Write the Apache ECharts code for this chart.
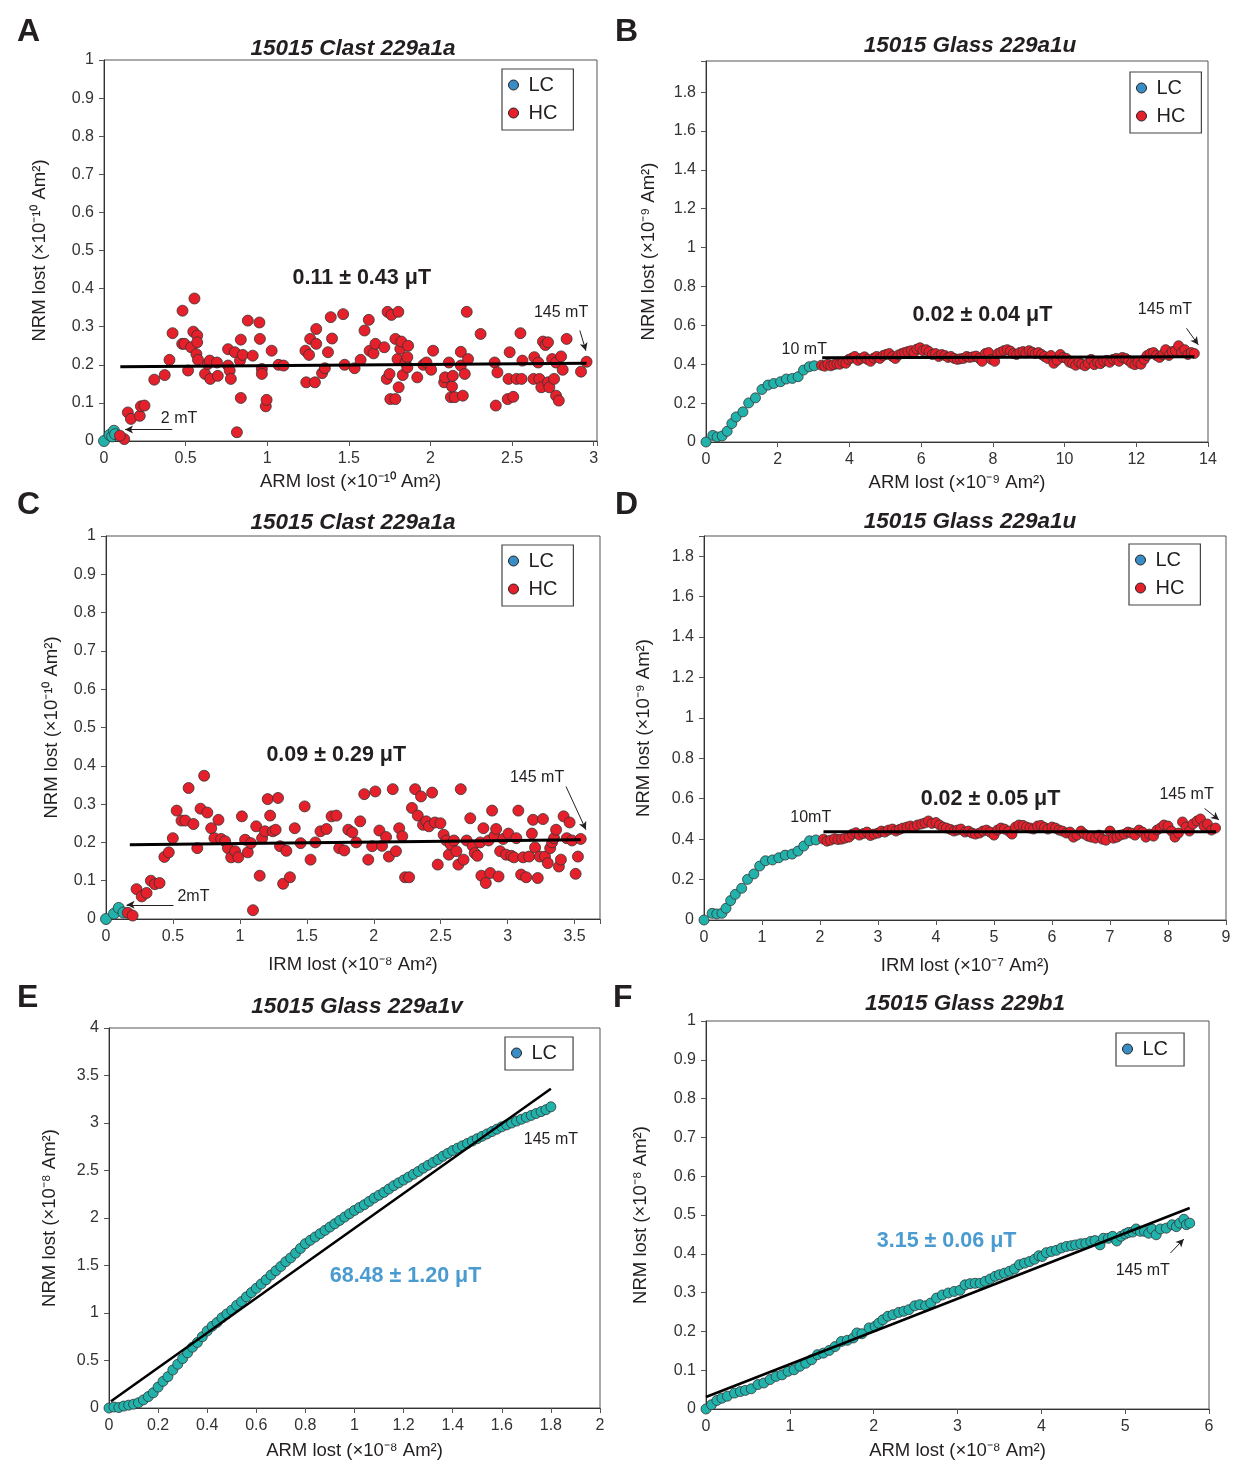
<!DOCTYPE html>
<html><head><meta charset="utf-8">
<script src="https://cdn.jsdelivr.net/npm/echarts@6/dist/echarts.min.js"></script>
<style>html,body{margin:0;padding:0;background:#fff}#c{width:1238px;height:1464px}</style>
</head><body><div id="c"></div>
<script>
// ---------- DATA ----------
// Panel A: NRM lost vs ARM lost (x1e-10)
const lcA = [[0,0],[0.034,0.016],[0.05,0.012],[0.061,0.027],[0.068,0.018]];
const hcA = [[0.124,0.005],[0.097,0.014],[0.146,0.075],[0.165,0.058],[0.219,0.066],[0.226,0.091],[0.248,0.093],[0.814,0.023],
[0.308,0.161],[0.372,0.173],[0.401,0.213],[0.42,0.283],[0.479,0.255],[0.481,0.342],[0.493,0.255],[0.515,0.185],[0.534,0.246],
[0.554,0.374],[0.547,0.287],[0.571,0.277],[0.571,0.259],[0.566,0.228],[0.576,0.213],[0.619,0.176],[0.636,0.202],[0.648,0.211],
[0.651,0.163],[0.692,0.206],[0.697,0.171],[0.76,0.241],[0.76,0.198],[0.77,0.185],[0.777,0.163],[0.801,0.233],[0.833,0.211],
[0.838,0.266],[0.838,0.113],[0.85,0.226],[0.881,0.316],[0.911,0.224],[0.952,0.311],[0.955,0.268],[0.967,0.189],[0.967,0.176],
[0.991,0.091],[0.996,0.108],[1.027,0.237],[1.069,0.2],[1.1,0.198],[1.234,0.237],[1.239,0.154],[1.256,0.226],[1.263,0.268],
[1.292,0.154],[1.3,0.255],[1.3,0.294],[1.336,0.178],[1.353,0.191],[1.372,0.233],[1.389,0.325],[1.397,0.269],[1.465,0.333],
[1.474,0.2],[1.535,0.191],[1.572,0.213],[1.596,0.29],[1.622,0.318],[1.627,0.237],[1.651,0.23],[1.663,0.255],[1.717,0.246],
[1.732,0.163],[1.737,0.339],[1.749,0.176],[1.754,0.11],[1.761,0.331],[1.785,0.11],[1.785,0.268],[1.798,0.215],[1.803,0.339],
[1.805,0.141],[1.815,0.242],[1.822,0.261],[1.83,0.173],[1.847,0.206],[1.858,0.22],[1.863,0.25],[1.858,0.193],[1.919,0.167],
[1.956,0.2],[1.975,0.206],[2.004,0.187],[2.016,0.237],[2.084,0.154],[2.089,0.167],[2.113,0.206],[2.125,0.115],[2.132,0.143],
[2.137,0.171],[2.149,0.115],[2.186,0.198],[2.186,0.234],[2.198,0.119],[2.21,0.176],[2.222,0.339],[2.23,0.215],[2.307,0.281],
[2.393,0.206],[2.4,0.093],[2.41,0.18],[2.473,0.11],[2.478,0.163],[2.485,0.233],[2.507,0.116],[2.527,0.163],[2.551,0.283],
[2.558,0.163],[2.563,0.211],[2.631,0.163],[2.636,0.22],[2.66,0.206],[2.667,0.163],[2.679,0.141],[2.689,0.261],[2.704,0.252],
[2.72,0.259],[2.72,0.154],[2.728,0.141],[2.745,0.215],[2.757,0.163],[2.769,0.119],[2.769,0.206],[2.786,0.106],[2.8,0.222],
[2.81,0.187],[2.834,0.268],[2.922,0.182],[2.956,0.208]];
const fitA = [[0.10,0.195],[2.956,0.204]];

// Panel B: NRM lost vs ARM lost (x1e-9)
const lcB = [[0,0],[0.19,0.034],[0.31,0.026],[0.45,0.031],[0.59,0.055],[0.72,0.095],[0.84,0.129],[1.03,0.155],[1.19,0.201],
[1.38,0.227],[1.56,0.27],[1.73,0.293],[1.89,0.301],[2.08,0.31],[2.24,0.324],[2.41,0.327],[2.57,0.336],[2.72,0.37],[2.88,0.387],[3.02,0.392]];
const hcBx = [3.22,3.31,3.40,3.48,3.56,3.65,3.73,3.82,3.90,3.98,4.07,4.15,4.24,4.33,4.42,4.50,4.59,4.68,4.76,4.85,4.94,5.02,5.11,5.20,
5.28,5.37,5.46,5.54,5.63,5.72,5.80,5.88,5.97,6.05,6.14,6.22,6.31,6.40,6.49,6.57,6.66,6.75,6.83,6.92,7.01,7.09,7.18,7.27,7.35,7.44,
7.53,7.62,7.70,7.79,7.88,7.96,8.05,8.14,8.22,8.31,8.40,8.49,8.57,8.66,8.75,8.84,8.92,9.01,9.10,9.18,9.27,9.36,9.44,9.53,9.62,9.70,
9.79,9.88,9.96,10.05,10.14,10.22,10.31,10.40,10.48,10.57,10.66,10.74,10.83,10.92,11.00,11.09,11.18,11.26,11.35,11.44,11.52,11.61,
11.70,11.78,11.87,11.96,12.04,12.13,12.22,12.30,12.39,12.48,12.56,12.65,12.74,12.82,12.91,13.00,13.09,13.18,13.26,13.35,13.44,13.53,13.62];
const hcBy = [0.395,0.39,0.40,0.392,0.398,0.402,0.40,0.41,0.405,0.425,0.432,0.44,0.42,0.43,0.438,0.425,0.415,0.432,0.44,0.43,0.445,0.45,
0.455,0.44,0.43,0.448,0.455,0.46,0.465,0.47,0.46,0.478,0.485,0.47,0.475,0.465,0.45,0.455,0.44,0.45,0.445,0.435,0.44,0.43,0.425,0.428,
0.43,0.44,0.435,0.438,0.442,0.43,0.415,0.455,0.46,0.425,0.415,0.455,0.462,0.47,0.475,0.468,0.455,0.45,0.46,0.465,0.458,0.47,0.462,
0.455,0.46,0.45,0.44,0.43,0.445,0.405,0.42,0.45,0.435,0.43,0.41,0.405,0.395,0.41,0.40,0.392,0.405,0.425,0.398,0.41,0.403,0.415,0.42,
0.41,0.425,0.43,0.415,0.435,0.43,0.42,0.405,0.398,0.41,0.40,0.425,0.445,0.455,0.46,0.445,0.435,0.45,0.475,0.445,0.465,0.47,0.495,
0.46,0.475,0.45,0.46,0.455];
const fitB = [[3.24,0.434],[13.62,0.439]];

// Panel C: NRM lost vs IRM lost (x1e-8)
const lcC = [[0,0],[0.06,0.014],[0.095,0.029],[0.13,0.017]];
const hcC = [[0.163,0.016],[0.199,0.009],[0.228,0.078],[0.267,0.059],[0.303,0.068],[0.335,0.1],[0.365,0.091],[0.4,0.094],[0.436,0.162],
[0.469,0.174],[0.499,0.211],[0.528,0.283],[0.564,0.257],[0.593,0.257],[0.617,0.342],[0.653,0.248],[0.682,0.185],[0.706,0.288],[0.733,0.374],
[0.757,0.278],[0.786,0.237],[0.81,0.211],[0.84,0.259],[0.86,0.209],[0.89,0.203],[0.911,0.185],[0.935,0.161],[0.964,0.177],[0.988,0.161],
[1.015,0.268],[1.039,0.207],[1.059,0.174],[1.083,0.198],[1.098,0.023],[1.122,0.242],[1.148,0.113],[1.166,0.211],[1.187,0.229],[1.208,0.313],
[1.226,0.27],[1.246,0.229],[1.267,0.233],[1.285,0.316],[1.3,0.19],[1.323,0.092],[1.347,0.178],[1.374,0.109],[1.41,0.237],[1.454,0.198],
[1.484,0.294],[1.528,0.155],[1.564,0.2],[1.602,0.229],[1.647,0.235],[1.685,0.268],[1.721,0.27],[1.742,0.185],[1.78,0.179],[1.81,0.233],
[1.84,0.226],[1.869,0.2],[1.899,0.255],[1.929,0.326],[1.959,0.155],[1.988,0.19],[2.012,0.333],[2.042,0.231],[2.062,0.191],[2.092,0.214],
[2.113,0.163],[2.142,0.339],[2.166,0.177],[2.19,0.237],[2.213,0.216],[2.234,0.109],[2.264,0.109],[2.285,0.29],[2.309,0.339],[2.329,0.27],
[2.353,0.32],[2.368,0.246],[2.392,0.255],[2.412,0.242],[2.436,0.33],[2.457,0.252],[2.478,0.142],[2.498,0.25],[2.522,0.22],[2.543,0.205],
[2.561,0.168],[2.576,0.194],[2.599,0.205],[2.617,0.177],[2.632,0.142],[2.65,0.339],[2.671,0.155],[2.694,0.205],[2.721,0.263],[2.739,0.191],
[2.754,0.172],[2.774,0.165],[2.795,0.2],[2.804,0.113],[2.819,0.237],[2.837,0.094],[2.858,0.205],[2.87,0.12],[2.884,0.283],[2.902,0.217],
[2.914,0.235],[2.932,0.111],[2.944,0.177],[2.967,0.209],[2.988,0.168],[3.006,0.223],[3.027,0.165],[3.047,0.161],[3.065,0.211],[3.08,0.283],
[3.101,0.116],[3.116,0.161],[3.139,0.109],[3.16,0.163],[3.181,0.223],[3.205,0.187],[3.19,0.259],[3.225,0.107],[3.24,0.163],[3.264,0.261],
[3.279,0.163],[3.3,0.146],[3.318,0.185],[3.332,0.2],[3.347,0.211],[3.362,0.233],[3.383,0.137],[3.398,0.155],[3.418,0.268],[3.442,0.211],
[3.463,0.252],[3.481,0.205],[3.508,0.118],[3.525,0.163],[3.546,0.209]];
const fitC = [[0.178,0.194],[3.546,0.207]];

// Panel D: NRM lost vs IRM lost (x1e-7)
const lcD = [[0,0],[0.14,0.033],[0.22,0.03],[0.31,0.033],[0.38,0.058],[0.46,0.096],[0.54,0.127],[0.65,0.157],[0.75,0.201],[0.86,0.228],
[0.96,0.267],[1.06,0.293],[1.18,0.297],[1.29,0.308],[1.4,0.321],[1.52,0.326],[1.62,0.341],[1.72,0.366],[1.82,0.392],[1.93,0.396]];
const hcDx = [2.06,2.12,2.18,2.25,2.31,2.37,2.43,2.50,2.56,2.62,2.68,2.75,2.81,2.87,2.93,3.00,3.06,3.12,3.18,3.25,3.31,3.37,3.43,3.50,
3.56,3.62,3.68,3.75,3.81,3.87,3.93,4.00,4.06,4.12,4.18,4.25,4.31,4.37,4.43,4.50,4.56,4.62,4.68,4.75,4.81,4.87,4.93,5.00,5.06,5.12,
5.18,5.25,5.31,5.37,5.43,5.50,5.56,5.62,5.68,5.75,5.81,5.87,5.93,6.00,6.06,6.12,6.18,6.25,6.31,6.37,6.43,6.50,6.56,6.62,6.68,6.75,
6.81,6.87,6.93,7.00,7.06,7.12,7.18,7.25,7.31,7.37,7.43,7.50,7.56,7.62,7.68,7.75,7.81,7.87,7.93,8.00,8.06,8.12,8.18,8.25,8.31,8.37,
8.43,8.50,8.56,8.62,8.68,8.75,8.82];
const hcDy = [0.40,0.39,0.395,0.402,0.398,0.40,0.405,0.41,0.425,0.432,0.42,0.428,0.435,0.418,0.425,0.43,0.44,0.435,0.445,0.45,0.44,0.448,
0.455,0.46,0.465,0.458,0.47,0.475,0.48,0.49,0.478,0.482,0.47,0.46,0.455,0.448,0.44,0.445,0.45,0.435,0.44,0.43,0.425,0.43,0.44,0.445,
0.435,0.42,0.445,0.455,0.45,0.44,0.425,0.46,0.47,0.468,0.46,0.455,0.45,0.465,0.468,0.458,0.45,0.46,0.455,0.445,0.44,0.43,0.435,0.41,
0.42,0.44,0.425,0.415,0.41,0.405,0.42,0.40,0.395,0.44,0.405,0.41,0.42,0.425,0.435,0.43,0.42,0.445,0.435,0.41,0.425,0.415,0.445,0.455,
0.47,0.465,0.44,0.41,0.43,0.485,0.46,0.44,0.475,0.49,0.50,0.465,0.475,0.445,0.455];
const fitD = [[2.06,0.437],[8.83,0.437]];

// Panel E: NRM lost vs ARM lost (x1e-8)
const lcE = [[0,0],[0.02,0.01],[0.04,0.005],[0.06,0.02],[0.08,0.03],[0.1,0.04],[0.12,0.055],[0.14,0.085],[0.16,0.12],[0.18,0.16],
[0.2,0.22],[0.22,0.28],[0.24,0.33],[0.26,0.4],[0.28,0.46],[0.3,0.52],[0.32,0.58],[0.34,0.64],[0.36,0.69],[0.38,0.75],[0.4,0.81],
[0.42,0.86],[0.44,0.9],[0.46,0.95],[0.48,0.99],[0.5,1.03],[0.52,1.08],[0.54,1.12],[0.56,1.17],[0.58,1.215],[0.6,1.26],[0.62,1.305],
[0.64,1.35],[0.66,1.4],[0.68,1.445],[0.7,1.49],[0.72,1.54],[0.74,1.58],[0.76,1.63],[0.78,1.68],[0.8,1.73],[0.82,1.765],[0.84,1.80],
[0.86,1.835],[0.88,1.87],[0.9,1.905],[0.92,1.94],[0.94,1.975],[0.96,2.01],[0.98,2.045],[1.0,2.08],[1.02,2.11],[1.04,2.14],[1.06,2.175],
[1.08,2.21],[1.1,2.24],[1.12,2.27],[1.14,2.305],[1.16,2.34],[1.18,2.37],[1.2,2.4],[1.22,2.43],[1.24,2.46],[1.26,2.49],[1.28,2.525],
[1.3,2.555],[1.32,2.585],[1.34,2.615],[1.36,2.65],[1.38,2.68],[1.4,2.71],[1.42,2.735],[1.44,2.76],[1.46,2.785],[1.48,2.81],[1.5,2.835],
[1.52,2.86],[1.54,2.885],[1.56,2.91],[1.58,2.935],[1.6,2.96],[1.62,2.98],[1.64,3.0],[1.66,3.02],[1.68,3.04],[1.7,3.06],[1.72,3.08],
[1.74,3.1],[1.76,3.12],[1.78,3.14],[1.8,3.17]];
const fitE = [[0.008,0.07],[1.8,3.36]];

// Panel F: NRM lost vs ARM lost (x1e-8)
const lcF = [[0,0],[0.066,0.011],[0.13,0.022],[0.19,0.028],[0.255,0.033],[0.34,0.041],[0.41,0.045],[0.47,0.048],[0.54,0.052],[0.62,0.063],
[0.69,0.067],[0.765,0.076],[0.836,0.084],[0.907,0.088],[0.978,0.097],[1.05,0.101],[1.12,0.11],[1.19,0.118],[1.26,0.127],[1.33,0.14],
[1.4,0.144],[1.47,0.151],[1.54,0.161],[1.615,0.174],[1.686,0.177],[1.757,0.183],[1.8,0.196],[1.86,0.194],[1.946,0.209],[2.017,0.213],
[2.06,0.221],[2.11,0.23],[2.17,0.239],[2.23,0.243],[2.3,0.249],[2.36,0.252],[2.42,0.256],[2.49,0.266],[2.55,0.269],[2.62,0.266],
[2.68,0.273],[2.75,0.286],[2.82,0.294],[2.89,0.299],[2.96,0.303],[3.03,0.306],[3.09,0.32],[3.15,0.323],[3.21,0.324],[3.27,0.324],
[3.33,0.329],[3.39,0.335],[3.45,0.342],[3.5,0.346],[3.56,0.35],[3.62,0.355],[3.68,0.361],[3.74,0.372],[3.8,0.376],[3.86,0.38],
[3.92,0.386],[3.97,0.395],[4.01,0.393],[4.06,0.403],[4.12,0.406],[4.18,0.409],[4.24,0.415],[4.3,0.419],[4.36,0.421],[4.41,0.423],
[4.47,0.426],[4.53,0.427],[4.59,0.432],[4.64,0.434],[4.7,0.423],[4.74,0.44],[4.8,0.44],[4.85,0.445],[4.9,0.433],[4.95,0.445],[5.0,0.451],
[5.04,0.455],[5.09,0.456],[5.13,0.464],[5.18,0.458],[5.23,0.458],[5.28,0.453],[5.32,0.464],[5.37,0.449],[5.42,0.464],[5.49,0.466],
[5.56,0.475],[5.61,0.47],[5.65,0.479],[5.7,0.489],[5.73,0.475],[5.77,0.479]];
const fitF = [[0,0.031],[5.77,0.518]];

// Titles / labels
const panelLetters = ['A','B','C','D','E','F'];
const panelTitles = ['15015 Clast 229a1a','15015 Glass 229a1u','15015 Clast 229a1a','15015 Glass 229a1u','15015 Glass 229a1v','15015 Glass 229b1'];
const xNames = ['ARM lost (×10⁻¹⁰ Am²)','ARM lost (×10⁻⁹ Am²)','IRM lost (×10⁻⁸ Am²)','IRM lost (×10⁻⁷ Am²)','ARM lost (×10⁻⁸ Am²)','ARM lost (×10⁻⁸ Am²)'];
const yNames = ['NRM lost (×10⁻¹⁰ Am²)','NRM lost (×10⁻⁹ Am²)','NRM lost (×10⁻¹⁰ Am²)','NRM lost (×10⁻⁹ Am²)','NRM lost (×10⁻⁸ Am²)','NRM lost (×10⁻⁸ Am²)'];
const paleoLabels = ['0.11 ± 0.43 μT','0.02 ± 0.04 μT','0.09 ± 0.29 μT','0.02 ± 0.05 μT','68.48 ± 1.20 μT','3.15 ± 0.06 μT'];

// ---------- LAYOUT ----------
const FONT = '"Liberation Sans", Arial, Helvetica, sans-serif';
const TXT = '#231f20';
const RED = '#e5202b', TEAL = '#22b2ac', LEGBLUE = '#3a8dc4';
const grids = [
  {left:104, top:60, width:493, height:381},
  {left:706, top:61, width:502, height:381},
  {left:106, top:536, width:494, height:383},
  {left:704, top:536, width:522, height:384},
  {left:109, top:1028, width:491, height:380},
  {left:706, top:1021, width:503, height:388}
];
const axes = [
  {xmax:3.02, xint:0.5, ymax:1, yint:0.1, yGap:55, xGap:31},
  {xmax:14, xint:2, ymax:1.96, yint:0.2, yGap:48, xGap:31},
  {xmax:3.69, xint:0.5, ymax:1, yint:0.1, yGap:45, xGap:36},
  {xmax:9, xint:1, ymax:1.9, yint:0.2, yGap:51, xGap:36},
  {xmax:2, xint:0.2, ymax:4, yint:0.5, yGap:50, xGap:33},
  {xmax:6, xint:1, ymax:1, yint:0.1, yGap:56, xGap:32}
];
const letterPos = [[12,11],[610,11],[12,484],[610,484],[12,977],[608,977]];
const titleCenter = [[348,45],[965,42],[348,519],[965,518],[352,1003],[960,1000]];
const legendPos = [[502,69,2],[1130,72,2],[502,545,2],[1129,544,2],[505,1037,1],[1116,1033,1]];

function fmt(interval){
  return function(v){
    const r = v/interval;
    if (Math.abs(r-Math.round(r))>1e-6) return '';
    return String(+v.toFixed(6));
  };
}

const xAxis = [], yAxis = [], title = [], legend = [], series = [];
axes.forEach((a,i)=>{
  xAxis.push({type:'value', gridIndex:i, min:0, max:a.xmax, interval:a.xint,
    name:xNames[i], nameLocation:'middle', nameGap:a.xGap,
    nameTextStyle:{fontFamily:FONT, fontSize:18.5, color:TXT},
    axisLine:{show:true, onZero:false, lineStyle:{color:'#333', width:1}},
    axisTick:{show:true, length:5, lineStyle:{color:'#555'}},
    axisLabel:{fontFamily:FONT, fontSize:16, color:'#333', margin:10, formatter:fmt(a.xint)},
    splitLine:{show:false}});
  yAxis.push({type:'value', gridIndex:i, min:0, max:a.ymax, interval:a.yint,
    name:yNames[i], nameLocation:'middle', nameGap:a.yGap, nameRotate:90,
    nameTextStyle:{fontFamily:FONT, fontSize:18.5, color:TXT},
    axisLine:{show:true, onZero:false, lineStyle:{color:'#333', width:1}},
    axisTick:{show:true, length:5, lineStyle:{color:'#555'}},
    axisLabel:{fontFamily:FONT, fontSize:16, color:'#333', margin:10, formatter:fmt(a.yint)},
    splitLine:{show:false}});
  title.push({text:panelLetters[i], left:letterPos[i][0], top:letterPos[i][1],
    textStyle:{fontFamily:FONT, fontSize:32, fontWeight:'bold', color:TXT}});
  title.push({text:panelTitles[i], left:titleCenter[i][0], top:titleCenter[i][1]-13, textAlign:'center',
    textStyle:{fontFamily:FONT, fontSize:22.5, fontWeight:'bold', fontStyle:'italic', color:TXT}});
  const lp = legendPos[i];
  const ld = [{name:'LC', itemStyle:{color:LEGBLUE, borderColor:'#222', borderWidth:1}}];
  if (lp[2]===2) ld.push({name:'HC', itemStyle:{color:RED, borderColor:'#222', borderWidth:1}});
  legend.push({left:lp[0], top:lp[1], orient:'vertical', data:ld, selectedMode:false,
    icon:'circle', itemWidth:10, itemHeight:10, itemGap:8,
    padding:[6,16,7,6], borderColor:'#444', borderWidth:1.2,
    textStyle:{fontFamily:FONT, fontSize:20, color:TXT, padding:[0,0,0,5]}});
});

function scatter(name, color, data, gi, size){
  return {type:'scatter', name:name, xAxisIndex:gi, yAxisIndex:gi, data:data, symbol:'circle', symbolSize:size,
    itemStyle:{color:color, borderColor:'#333', borderWidth:0.8, opacity:1}, silent:true, z:3};
}
function zip(xs, ys){ return xs.map((x,k)=>[x,ys[k]]); }

function txtPoint(coord, text, opt){
  return {coord:coord, value:0, label:Object.assign({show:true, formatter:text, fontFamily:FONT, color:TXT, fontSize:16}, opt||{})};
}
function arrow(p1, p2){ return [{coord:p1}, {coord:p2}]; }

function fitLine(data, gi, width, texts, arrows){
  return {type:'line', name:'fit'+gi, xAxisIndex:gi, yAxisIndex:gi, data:data, symbol:'none',
    lineStyle:{color:'#000', width:width}, silent:true, z:4,
    markPoint:{symbol:'circle', symbolSize:0, itemStyle:{color:'transparent'}, silent:true, animation:false, data:texts},
    markLine:{symbol:['none','arrow'], symbolSize:[6,8], silent:true, animation:false,
      lineStyle:{color:TXT, width:1, type:'solid'}, label:{show:false}, data:arrows}};
}
const bold = {fontSize:21.5, fontWeight:'bold'};
const blue = {fontSize:21.5, fontWeight:'bold', color:'#4a9bd0'};

// A
series.push(scatter('LC', TEAL, lcA, 0, 11), scatter('HC', RED, hcA, 0, 11));
series.push(fitLine(fitA, 0, 3, [
  txtPoint([1.579,0.427], paleoLabels[0], bold),
  txtPoint([2.8,0.338], '145 mT'),
  txtPoint([0.46,0.059], '2 mT')
],[arrow([2.915,0.29],[2.952,0.237]), arrow([0.418,0.03],[0.129,0.03])]));
// B
series.push(scatter('LC', TEAL, lcB, 1, 10), scatter('HC', RED, zip(hcBx,hcBy), 1, 10));
series.push(fitLine(fitB, 1, 3, [
  txtPoint([7.71,0.654], paleoLabels[1], bold),
  txtPoint([12.8,0.683], '145 mT'),
  txtPoint([2.74,0.477], '10 mT')
],[arrow([13.4,0.585],[13.73,0.5])]));
// C
series.push(scatter('LC', TEAL, lcC, 2, 11), scatter('HC', RED, hcC, 2, 11));
series.push(fitLine(fitC, 2, 3, [
  txtPoint([1.72,0.429], paleoLabels[2], bold),
  txtPoint([3.22,0.368], '145 mT'),
  txtPoint([0.653,0.059], '2mT')
],[arrow([3.436,0.346],[3.585,0.233]), arrow([0.504,0.037],[0.154,0.037])]));
// D
series.push(scatter('LC', TEAL, lcD, 3, 10), scatter('HC', RED, zip(hcDx,hcDy), 3, 10));
series.push(fitLine(fitD, 3, 3, [
  txtPoint([4.94,0.597], paleoLabels[3], bold),
  txtPoint([8.32,0.621], '145 mT'),
  txtPoint([1.84,0.506], '10mT')
],[arrow([8.63,0.552],[8.88,0.495])]));
// E
series.push(scatter('LC', TEAL, lcE, 4, 10));
series.push(fitLine(fitE, 4, 2.5, [
  txtPoint([1.208,1.384], paleoLabels[4], blue),
  txtPoint([1.8,2.83], '145 mT')
],[]));
// F
series.push(scatter('LC', TEAL, lcF, 5, 10));
series.push(fitLine(fitF, 5, 2.5, [
  txtPoint([2.87,0.434], paleoLabels[5], blue),
  txtPoint([5.21,0.357], '145 mT')
],[arrow([5.54,0.402],[5.7,0.438])]));

const chart = echarts.init(document.getElementById('c'), null, {renderer:'canvas'});
chart.setOption({
  backgroundColor:'#fff', animation:false,
  grid: grids.map(g=>Object.assign({show:true, borderColor:'#555', borderWidth:1, containLabel:false}, g)),
  xAxis:xAxis, yAxis:yAxis, title:title, legend:legend, series:series
});
</script></body></html>
